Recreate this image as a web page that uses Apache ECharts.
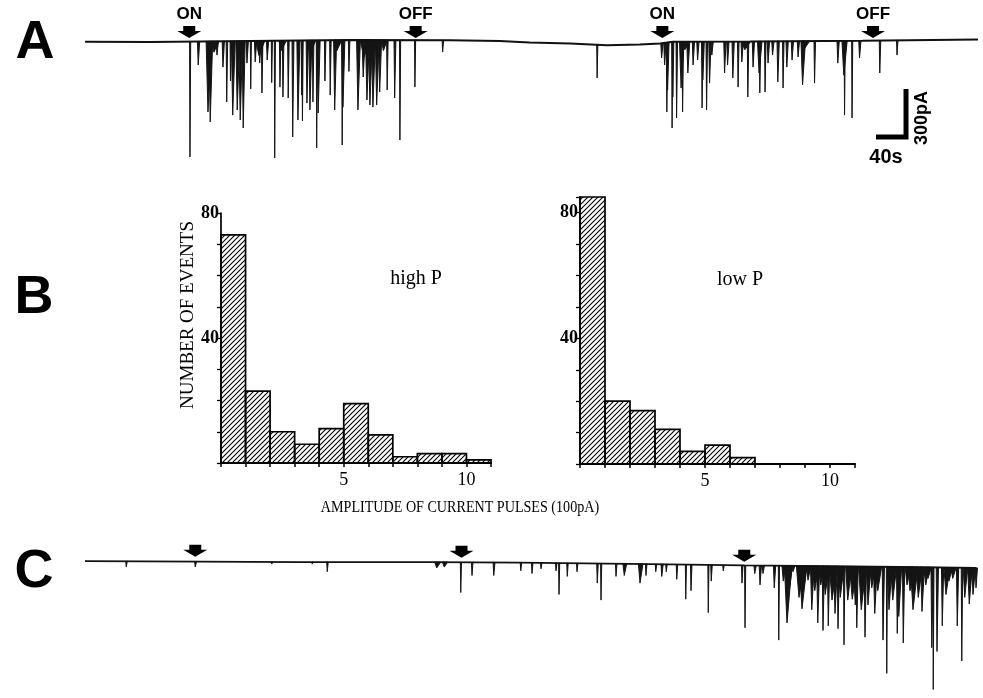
<!DOCTYPE html>
<html>
<head>
<meta charset="utf-8">
<script src="https://cdn.jsdelivr.net/npm/echarts@6/dist/echarts.min.js"></script>
<style>
  html, body { margin: 0; padding: 0; background: #fff; }
  #chart { width: 983px; height: 698px; }
</style>
</head>
<body>
<div id="chart"></div>
<script>
// ---------- B: amplitude histograms (bin width = 1 x 100 pA) ----------
const binStarts   = [0, 1, 2, 3, 4, 5, 6, 7, 8, 9, 10];
const highPCounts = [73, 23, 10, 6, 11, 19, 9, 2, 3, 3, 1];
const lowPCounts  = [85, 20, 17, 11, 4, 6, 2, 0, 0, 0, 0];
const countTickLabels     = [40, 80];
const amplitudeTickLabels = [5, 10];

// ---------- A: current trace, time in s, current in pA ----------
const traceABaseline = [
  [0, -4], [87, -6], [220, 0], [353, 6], [487, 4], [553, 0], [593, -10],
  [647, -16], [696, -26], [740, -22], [767, -16], [784, -4], [887, -3],
  [1037, 2], [1191, 9]
];
// [time s, peak pA, width s]
const traceAEvents = [
  [140, -725, 1.5], [151, -150, 3], [164, -444, 7], [167, -506, 5], [176, -88, 3],
  [184, -163, 3], [189, -381, 2], [197, -463, 5], [203, -431, 5], [207, -494, 5],
  [211, -544, 4], [216, -138, 3], [227, -131, 3], [233, -138, 3], [236, -325, 2],
  [243, -119, 3], [253, -731, 1.5], [260, -288, 2], [264, -350, 2], [271, -356, 2],
  [277, -600, 2.5], [284, -494, 4], [289, -338, 2], [296, -388, 3], [300, -431, 4],
  [304, -381, 2], [309, -669, 1.5], [311, -450, 4], [320, -250, 2], [327, -338, 2],
  [333, -431, 4], [343, -650, 2], [344, -413, 4], [352, -190, 2], [364, -431, 5],
  [371, -225, 4], [376, -369, 5], [380, -400, 5], [384, -413, 5], [389, -400, 5],
  [393, -319, 4], [403, -306, 2], [413, -356, 2.5], [420, -619, 1.5], [440, -288, 1.5],
  [477, -69, 2], [194, -250, 1.5], [221, -300, 1.5], [249, -260, 1.5], [290, -500, 1.5],
  [172, -70, 10], [232, -90, 12], [262, -60, 10], [300, -80, 12], [336, -60, 10],
  [372, -100, 14], [398, -60, 8],
  [683, -231, 1.5], [769, -106, 3], [773, -150, 3], [776, -444, 2], [777, -306, 3],
  [783, -544, 1.5], [784, -350, 2], [789, -481, 2], [795, -294, 6], [797, -444, 2],
  [804, -200, 4], [811, -150, 3], [817, -119, 3], [823, -419, 2], [824, -244, 3],
  [829, -431, 2], [833, -263, 3], [836, -88, 3], [853, -200, 3], [857, -150, 3],
  [864, -231, 3], [871, -288, 2], [876, -131, 3], [884, -350, 2], [891, -163, 3],
  [899, -200, 6], [900, -325, 2], [907, -319, 2], [911, -138, 3], [917, -88, 3],
  [924, -256, 3], [931, -294, 2], [936, -163, 3], [943, -119, 3], [951, -100, 3],
  [957, -275, 6], [973, -263, 2], [1004, -138, 3], [1012, -213, 7], [1013, -463, 1.5],
  [1023, -481, 1.5], [1033, -106, 3], [1060, -200, 2], [1083, -88, 2],
  [800, -55, 10], [880, -55, 12], [960, -45, 10]
];
const traceAMarkerTimes  = [139, 441, 770, 1051];
const traceAMarkerLabels = ['ON', 'OFF', 'ON', 'OFF'];
const traceAMarkerLevel  = 56;

// scale bar
const SCALE_SECONDS = 40;
const SCALE_PA = 300;
const scaleCorner = [1095, -600];

// ---------- C: current trace ----------
const traceCBaseline = [
  [0, 0], [153, -3], [287, -6], [460, -6], [580, -9], [753, -19],
  [879, -28], [953, -31], [1087, -38], [1188, -44]
];
const traceCEvents = [
  [55, -38, 2], [147, -38, 2.5], [249, -19, 2], [303, -19, 2], [323, -69, 2],
  [469, -44, 8], [479, -38, 7],
  [501, -206, 1.5], [516, -94, 2], [545, -94, 2.5], [581, -63, 2], [596, -81, 2],
  [608, -50, 2], [628, -63, 2], [632, -219, 1.5], [643, -100, 2], [656, -69, 2],
  [683, -144, 2], [688, -256, 1.5], [708, -100, 2], [719, -94, 5], [740, -144, 6],
  [748, -94, 2], [761, -69, 2], [769, -100, 3], [775, -69, 2], [789, -119, 2],
  [801, -250, 1.5], [808, -194, 2], [831, -338, 1.5], [835, -131, 2], [851, -63, 2],
  [876, -144, 2], [880, -438, 1.5], [893, -81, 3], [900, -156, 3], [904, -81, 3],
  [919, -175, 3], [925, -519, 1.5], [931, -131, 5], [936, -406, 10], [940, -156, 5],
  [944, -69, 4], [952, -238, 10], [956, -313, 10], [959, -163, 5], [964, -125, 6],
  [969, -319, 5], [973, -194, 8], [977, -406, 4], [981, -156, 7], [984, -456, 3],
  [987, -219, 8], [991, -425, 3], [996, -256, 10], [1000, -344, 5], [1004, -444, 3],
  [1007, -238, 8], [1012, -550, 2], [1017, -256, 8], [1023, -250, 10], [1027, -288, 6],
  [1029, -438, 3], [1035, -319, 10], [1040, -500, 3], [1044, -288, 6], [1049, -175, 7],
  [1053, -344, 5], [1057, -194, 8], [1064, -519, 3], [1069, -738, 1.5], [1072, -319, 6],
  [1077, -256, 8], [1083, -475, 3], [1085, -363, 6], [1091, -538, 3], [1096, -156, 7],
  [1100, -194, 8], [1104, -319, 10], [1111, -238, 8], [1116, -331, 5], [1121, -156, 7],
  [1124, -113, 7], [1129, -569, 3], [1131, -844, 1.5], [1136, -594, 3], [1143, -425, 3],
  [1148, -219, 8], [1152, -131, 7], [1157, -113, 7], [1163, -425, 3], [1169, -656, 2],
  [1173, -238, 6], [1179, -281, 6], [1184, -219, 5], [1188, -175, 3]
];
const traceCMarkerTimes  = [147, 502, 879];
const traceCMarkerLevels = [68, 62, 36];

// ---------- helpers ----------
function baselineAt(base, t) {
  if (t <= base[0][0]) return base[0][1];
  for (let i = 1; i < base.length; i++) {
    if (t <= base[i][0]) {
      const a = base[i - 1], b = base[i];
      return a[1] + (b[1] - a[1]) * (t - a[0]) / (b[0] - a[0]);
    }
  }
  return base[base.length - 1][1];
}

function spikeRenderer(base) {
  return function (params, api) {
    const t = api.value(0), peak = api.value(1), w = api.value(2);
    const b = baselineAt(base, t);
    const p0 = api.coord([t - w * 0.35, b]);
    const p1 = api.coord([t, peak]);
    const p2 = api.coord([t + w * 0.65, b]);
    return {
      type: 'polygon',
      shape: { points: [p0, p1, p2] },
      style: { fill: '#141414', stroke: '#141414', lineWidth: 1 }
    };
  };
}

function hatchPattern() {
  const c = document.createElement('canvas');
  c.width = 5; c.height = 5;
  const g = c.getContext('2d');
  g.strokeStyle = '#000';
  g.lineWidth = 1.1;
  g.beginPath();
  g.moveTo(0, 5); g.lineTo(5, 0);
  g.moveTo(-1, 1); g.lineTo(1, -1);
  g.moveTo(4, 6); g.lineTo(6, 4);
  g.stroke();
  return { image: c, repeat: 'repeat' };
}
const hatch = hatchPattern();

function histRenderer(params, api) {
  const lo = api.value(0), hi = api.value(1), n = api.value(2);
  if (!n) return null;
  const a = api.coord([lo, n]);
  const b = api.coord([hi, 0]);
  return {
    type: 'rect',
    shape: { x: a[0], y: a[1], width: b[0] - a[0], height: b[1] - a[1] },
    style: { fill: hatch, stroke: '#000', lineWidth: 1.7 }
  };
}

const binData = counts => counts.map((c, i) => [binStarts[i], binStarts[i] + 1, c]);

const ARROW = 'path://M5.5,0 L16.5,0 L16.5,4.5 L22,4.5 L11,11 L0,4.5 L5.5,4.5 Z';
const SERIF = '"Liberation Serif", "DejaVu Serif", serif';
const SANS = '"Liberation Sans", Arial, sans-serif';

function histXAxis(gridIndex) {
  return {
    type: 'value', gridIndex, min: 0, max: 11, interval: 1,
    axisLine: { show: true, onZero: false, lineStyle: { color: '#000', width: 2.2 } },
    axisTick: { show: true, length: 4, lineStyle: { color: '#000', width: 1.5 } },
    axisLabel: {
      color: '#000', fontFamily: SERIF, fontSize: 18, margin: 8,
      formatter: v => amplitudeTickLabels.includes(v) ? String(v) : ''
    },
    splitLine: { show: false }
  };
}
function histYAxis(gridIndex, max) {
  return {
    type: 'value', gridIndex, min: 0, max, interval: 10,
    axisLine: { show: true, lineStyle: { color: '#000', width: 1.7 } },
    axisTick: { show: true, length: 4, lineStyle: { color: '#000', width: 1.3 } },
    axisLabel: {
      color: '#000', fontFamily: SERIF, fontSize: 18, fontWeight: 'bold', margin: 2,
      formatter: v => countTickLabels.includes(v) ? String(v) : ''
    },
    splitLine: { show: false }
  };
}
function traceAxisX(gridIndex, max) {
  return { type: 'value', gridIndex, min: 0, max, show: false, splitLine: { show: false } };
}
function traceAxisY(gridIndex, min) {
  return { type: 'value', gridIndex, min, max: 100, show: false, splitLine: { show: false } };
}

const chart = echarts.init(document.getElementById('chart'), null, { renderer: 'canvas' });

const option = {
  backgroundColor: '#fff',
  animation: false,
  grid: [
    { left: 85, top: 25, width: 893, height: 144 },
    { left: 221, top: 213, width: 270, height: 250 },
    { left: 580, top: 197, width: 275, height: 267 },
    { left: 85, top: 546, width: 891, height: 160 }
  ],
  xAxis: [traceAxisX(0, 1191), histXAxis(1), histXAxis(2), traceAxisX(3, 1188)],
  yAxis: [traceAxisY(0, -800), histYAxis(1, 80), histYAxis(2, 85), traceAxisY(3, -900)],
  series: [
    // trace A
    {
      type: 'line', xAxisIndex: 0, yAxisIndex: 0, data: traceABaseline,
      showSymbol: false, silent: true, lineStyle: { color: '#111', width: 2 }
    },
    {
      type: 'custom', xAxisIndex: 0, yAxisIndex: 0, silent: true,
      renderItem: spikeRenderer(traceABaseline), data: traceAEvents
    },
    {
      type: 'scatter', xAxisIndex: 0, yAxisIndex: 0, silent: true,
      symbol: ARROW, symbolSize: [24, 12],
      itemStyle: { color: '#000', opacity: 1 },
      data: traceAMarkerTimes.map((t, i) => ({ value: [t, traceAMarkerLevel], name: traceAMarkerLabels[i] })),
      label: {
        show: true, position: 'top', distance: 3, formatter: p => p.name,
        color: '#000', opacity: 1, fontFamily: SANS, fontSize: 17, fontWeight: 'bold'
      }
    },
    // scale bar
    {
      type: 'line', xAxisIndex: 0, yAxisIndex: 0, silent: true, showSymbol: false,
      lineStyle: { color: '#000', width: 5, join: 'miter' },
      data: [
        [scaleCorner[0] - SCALE_SECONDS, scaleCorner[1]],
        scaleCorner,
        [scaleCorner[0], scaleCorner[1] + SCALE_PA]
      ]
    },
    // histograms
    {
      type: 'custom', xAxisIndex: 1, yAxisIndex: 1, silent: true,
      renderItem: histRenderer, data: binData(highPCounts)
    },
    {
      type: 'custom', xAxisIndex: 2, yAxisIndex: 2, silent: true,
      renderItem: histRenderer, data: binData(lowPCounts)
    },
    // trace C
    {
      type: 'line', xAxisIndex: 3, yAxisIndex: 3, data: traceCBaseline,
      showSymbol: false, silent: true, lineStyle: { color: '#111', width: 1.8 }
    },
    {
      type: 'custom', xAxisIndex: 3, yAxisIndex: 3, silent: true,
      renderItem: spikeRenderer(traceCBaseline), data: traceCEvents
    },
    {
      type: 'scatter', xAxisIndex: 3, yAxisIndex: 3, silent: true,
      symbol: ARROW, symbolSize: [24, 12],
      itemStyle: { color: '#000', opacity: 1 },
      data: traceCMarkerTimes.map((t, i) => [t, traceCMarkerLevels[i]])
    }
  ],
  graphic: [
    { type: 'text', x: 35, y: 43, style: { text: 'A', font: 'bold 54px ' + SANS, fill: '#000', textAlign: 'center', textVerticalAlign: 'middle' } },
    { type: 'text', x: 34, y: 298, style: { text: 'B', font: 'bold 54px ' + SANS, fill: '#000', textAlign: 'center', textVerticalAlign: 'middle' } },
    { type: 'text', x: 34, y: 572, style: { text: 'C', font: 'bold 54px ' + SANS, fill: '#000', textAlign: 'center', textVerticalAlign: 'middle' } },
    { type: 'text', x: 886, y: 157, style: { text: '40s', font: 'bold 20px ' + SANS, fill: '#000', textAlign: 'center', textVerticalAlign: 'middle' } },
    { type: 'text', x: 922, y: 118, rotation: Math.PI / 2, style: { text: '300pA', font: 'bold 18px ' + SANS, fill: '#000', textAlign: 'center', textVerticalAlign: 'middle' } },
    { type: 'text', x: 188, y: 315, rotation: Math.PI / 2, style: { text: 'NUMBER OF EVENTS', font: '19px ' + SERIF, fill: '#000', textAlign: 'center', textVerticalAlign: 'middle' } },
    { type: 'text', x: 416, y: 279, style: { text: 'high P', font: '20px ' + SERIF, fill: '#000', textAlign: 'center', textVerticalAlign: 'middle' } },
    { type: 'text', x: 740, y: 280, style: { text: 'low P', font: '20px ' + SERIF, fill: '#000', textAlign: 'center', textVerticalAlign: 'middle' } },
    { type: 'text', x: 460, y: 508, scaleX: 0.83, style: { text: 'AMPLITUDE OF CURRENT PULSES (100pA)', font: '17px ' + SERIF, fill: '#000', textAlign: 'center', textVerticalAlign: 'middle' } }
  ]
};

chart.setOption(option);
</script>
</body>
</html>
